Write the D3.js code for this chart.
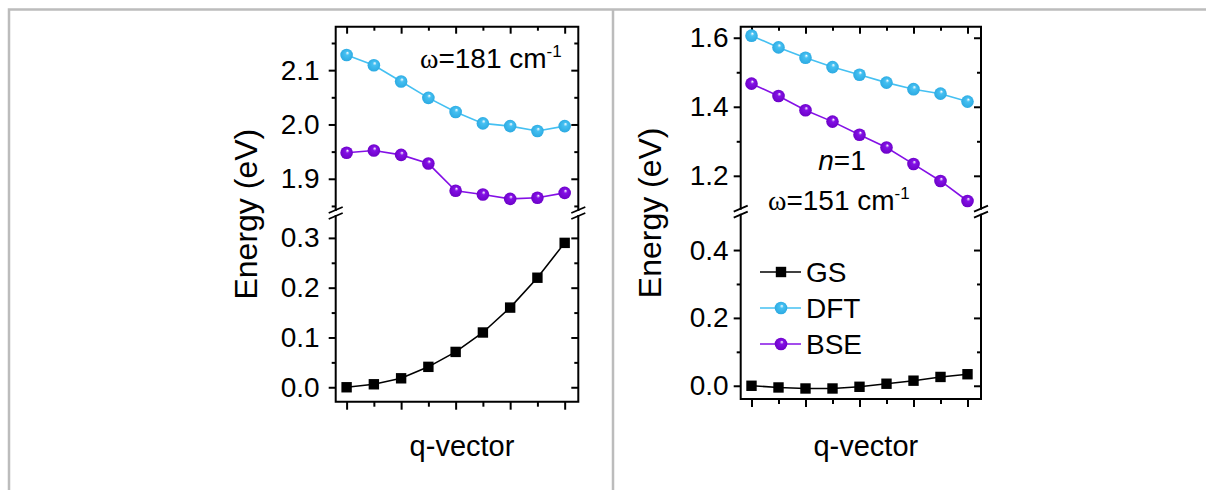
<!DOCTYPE html>
<html>
<head>
<meta charset="utf-8">
<script src="https://cdn.jsdelivr.net/npm/d3@7.9.0/dist/d3.min.js"></script>
<style>
  body { margin: 0; background: #fff; }
  svg { display: block; font-family: "Liberation Sans", Arial, sans-serif; }
</style>
</head>
<body>
<svg id="chart" width="1206" height="490"></svg>
<script>
// q-vector sample positions
const qPoints = [0, 1, 2, 3, 4, 5, 6, 7, 8];

// left panel (omega = 181 cm-1)
const leftGS  = [0.000, 0.006, 0.018, 0.041, 0.071, 0.110, 0.160, 0.220, 0.290];
const leftDFT = [2.128, 2.109, 2.079, 2.049, 2.023, 2.002, 1.997, 1.988, 1.997];
const leftBSE = [1.948, 1.952, 1.944, 1.928, 1.878, 1.871, 1.863, 1.865, 1.874];

// right panel (n = 1, omega = 151 cm-1)
const rightGS  = [0.000, -0.005, -0.008, -0.008, -0.003, 0.006, 0.015, 0.026, 0.034];
const rightDFT = [1.606, 1.572, 1.542, 1.515, 1.493, 1.470, 1.451, 1.438, 1.415];
const rightBSE = [1.467, 1.431, 1.390, 1.357, 1.319, 1.282, 1.234, 1.185, 1.127];

// tick labels
const leftUpperTicks  = [1.9, 2.0, 2.1];
const leftUpperMinor  = [1.85, 1.95, 2.05, 2.15];
const leftLowerTicks  = [0.0, 0.1, 0.2, 0.3];
const leftLowerMinor  = [0.05, 0.15, 0.25];
const rightUpperTicks = [1.2, 1.4, 1.6];
const rightUpperMinor = [1.3, 1.5];
const rightLowerTicks = [0.0, 0.2, 0.4];
const rightLowerMinor = [0.1, 0.3];
const qMajor = [0, 2, 4, 6, 8];
const qMinor = [1, 3, 5, 7];

const legendNames = ["GS", "DFT", "BSE"];

const DFT_COLOR = "#45c0f2";
const BSE_COLOR = "#8410e6";

const svg = d3.select("#chart");

// outer frame lines
svg.append("path")
  .attr("d", "M9,490 V9.5 H1206 M613,9.5 V490")
  .attr("fill", "none").attr("stroke", "#bcbcbc").attr("stroke-width", 2.5);

// sphere gradients
const defs = svg.append("defs");
function sphereGrad(id, base, dark) {
  const g = defs.append("radialGradient").attr("id", id)
    .attr("cx", "0.5").attr("cy", "0.5").attr("r", "0.55")
    .attr("fx", "0.58").attr("fy", "0.32");
  g.append("stop").attr("offset", "0%").attr("stop-color", "#ffffff");
  g.append("stop").attr("offset", "28%").attr("stop-color", base);
  g.append("stop").attr("offset", "100%").attr("stop-color", dark);
}
sphereGrad("gDFT", DFT_COLOR, "#2aa8e0");
sphereGrad("gBSE", BSE_COLOR, "#6a00c4");

function drawPanel(cfg) {
  const g = svg.append("g");
  const { x0, x1, yTop, yBreak, yBot } = cfg;
  const gap = 3;

  const x = d3.scaleLinear().domain([-0.4, 8.5]).range([x0, x1]);
  const yU = d3.scaleLinear().domain(cfg.upperDomain).range([yBreak, yTop]);
  const yL = d3.scaleLinear().domain(cfg.lowerDomain).range([yBot, yBreak]);

  const fmt = d3.format(".1f");
  const noDomain = s => s.select(".domain").remove();

  // left axis ticks
  const leftAxis = (scale, major, minor) => {
    g.append("g").attr("transform", `translate(${x0},0)`)
      .call(d3.axisLeft(scale).tickValues(major).tickSize(7).tickPadding(cfg.labelPad).tickFormat(fmt))
      .call(noDomain);
    g.append("g").attr("transform", `translate(${x0},0)`)
      .call(d3.axisLeft(scale).tickValues(minor).tickSize(4).tickFormat(""))
      .call(noDomain);
    g.append("g").attr("transform", `translate(${x1},0)`)
      .call(d3.axisLeft(scale).tickValues(major).tickSize(7).tickFormat(""))
      .call(noDomain);
    g.append("g").attr("transform", `translate(${x1},0)`)
      .call(d3.axisLeft(scale).tickValues(minor).tickSize(4).tickFormat(""))
      .call(noDomain);
  };
  leftAxis(yU, cfg.upperTicks, cfg.upperMinor);
  leftAxis(yL, cfg.lowerTicks, cfg.lowerMinor);

  // top (inward) and bottom (outward) ticks
  g.append("g").attr("transform", `translate(0,${yTop})`)
    .call(d3.axisBottom(x).tickValues(qMajor).tickSize(7).tickFormat("")).call(noDomain);
  g.append("g").attr("transform", `translate(0,${yTop})`)
    .call(d3.axisBottom(x).tickValues(qMinor).tickSize(4).tickFormat("")).call(noDomain);
  g.append("g").attr("transform", `translate(0,${yBot})`)
    .call(d3.axisBottom(x).tickValues(qMajor).tickSize(8).tickFormat("")).call(noDomain);
  g.append("g").attr("transform", `translate(0,${yBot})`)
    .call(d3.axisBottom(x).tickValues(qMinor).tickSize(5).tickFormat("")).call(noDomain);

  g.selectAll(".tick line").attr("stroke", "#000").attr("stroke-width", 2);
  g.selectAll(".tick text").attr("font-size", 28).attr("fill", "#000")
    .attr("font-family", '"Liberation Sans", Arial, sans-serif');

  // box with break
  const box = d3.path();
  box.moveTo(x0, yBreak - gap); box.lineTo(x0, yTop); box.lineTo(x1, yTop); box.lineTo(x1, yBreak - gap);
  box.moveTo(x0, yBreak + gap); box.lineTo(x0, yBot); box.lineTo(x1, yBot); box.lineTo(x1, yBreak + gap);
  g.append("path").attr("d", box.toString()).attr("fill", "none")
    .attr("stroke", "#000").attr("stroke-width", 2).attr("stroke-linecap", "square");

  // break marks
  [x0, x1].forEach(bx => {
    [-gap, gap].forEach(o => {
      g.append("line")
        .attr("x1", bx - 7).attr("y1", yBreak + o + 3)
        .attr("x2", bx + 7).attr("y2", yBreak + o - 3)
        .attr("stroke", "#000").attr("stroke-width", 1.8);
    });
  });

  const line = (scale) => d3.line().x((d, i) => x(qPoints[i])).y(d => scale(d));

  // upper series
  [[cfg.dft, DFT_COLOR, "gDFT"], [cfg.bse, BSE_COLOR, "gBSE"]].forEach(([vals, col, grad]) => {
    g.append("path").datum(vals).attr("d", line(yU)).attr("fill", "none")
      .attr("stroke", col).attr("stroke-width", 1.6);
    g.selectAll(null).data(vals).join("circle")
      .attr("cx", (d, i) => x(qPoints[i])).attr("cy", d => yU(d)).attr("r", 6.3)
      .attr("fill", `url(#${grad})`);
  });

  // lower series (GS)
  g.append("path").datum(cfg.gs).attr("d", line(yL)).attr("fill", "none")
    .attr("stroke", "#000").attr("stroke-width", 1.6);
  g.selectAll(null).data(cfg.gs).join("rect")
    .attr("x", (d, i) => x(qPoints[i]) - 5.2).attr("y", d => yL(d) - 5.2)
    .attr("width", 10.4).attr("height", 10.4).attr("fill", "#000");

  // axis titles
  g.append("text")
    .attr("transform", `translate(${cfg.yTitleX},${(yTop + yBot) / 2}) rotate(-90)`)
    .attr("text-anchor", "middle").attr("font-size", 32).text("Energy (eV)");
  g.append("text")
    .attr("x", (x0 + x1) / 2 + 5).attr("y", 456)
    .attr("text-anchor", "middle").attr("font-size", 29).text("q-vector");

  return { g, x, yU, yL };
}

const left = drawPanel({
  x0: 335.7, x1: 578.3, yTop: 26.7, yBreak: 213, yBot: 401.7,
  upperDomain: [1.837, 2.18], lowerDomain: [-0.029, 0.35],
  upperTicks: leftUpperTicks, upperMinor: leftUpperMinor,
  lowerTicks: leftLowerTicks, lowerMinor: leftLowerMinor,
  gs: leftGS, dft: leftDFT, bse: leftBSE,
  labelPad: 9, yTitleX: 257
});

const right = drawPanel({
  x0: 740.7, x1: 981, yTop: 26.7, yBreak: 211.7, yBot: 399,
  upperDomain: [1.096, 1.632], lowerDomain: [-0.039, 0.513],
  upperTicks: rightUpperTicks, upperMinor: rightUpperMinor,
  lowerTicks: rightLowerTicks, lowerMinor: rightLowerMinor,
  gs: rightGS, dft: rightDFT, bse: rightBSE,
  labelPad: 5, yTitleX: 661
});

// annotations
function omegaLabel(g, xPos, yPos, value) {
  const t = g.append("text").attr("x", xPos).attr("y", yPos).attr("font-size", 28);
  t.append("tspan").attr("font-family", '"Liberation Serif", "Times New Roman", serif').text("ω");
  t.append("tspan").text(`=${value} cm`);
  t.append("tspan").attr("font-size", 17).attr("dy", -11).text("-1");
}
omegaLabel(left.g, 420, 68, 181);
const nText = right.g.append("text").attr("x", 842).attr("y", 170)
  .attr("text-anchor", "middle").attr("font-size", 28);
nText.append("tspan").attr("font-style", "italic").text("n");
nText.append("tspan").text("=1");
omegaLabel(right.g, 768, 210, 151);

// legend
const legendY = d3.scalePoint().domain(legendNames).range([272, 344]);
const lg = right.g.append("g");
legendNames.forEach(name => {
  const y = legendY(name);
  const col = name === "GS" ? "#000" : name === "DFT" ? DFT_COLOR : BSE_COLOR;
  lg.append("line").attr("x1", 760).attr("x2", 801).attr("y1", y).attr("y2", y)
    .attr("stroke", col).attr("stroke-width", 1.6);
  if (name === "GS") {
    lg.append("rect").attr("x", 775.8).attr("y", y - 5.2).attr("width", 10.4).attr("height", 10.4).attr("fill", "#000");
  } else {
    lg.append("circle").attr("cx", 781).attr("cy", y).attr("r", 6.3)
      .attr("fill", name === "DFT" ? "url(#gDFT)" : "url(#gBSE)");
  }
  lg.append("text").attr("x", 806).attr("y", y + 10).attr("font-size", 28).text(name);
});
</script>
</body>
</html>
